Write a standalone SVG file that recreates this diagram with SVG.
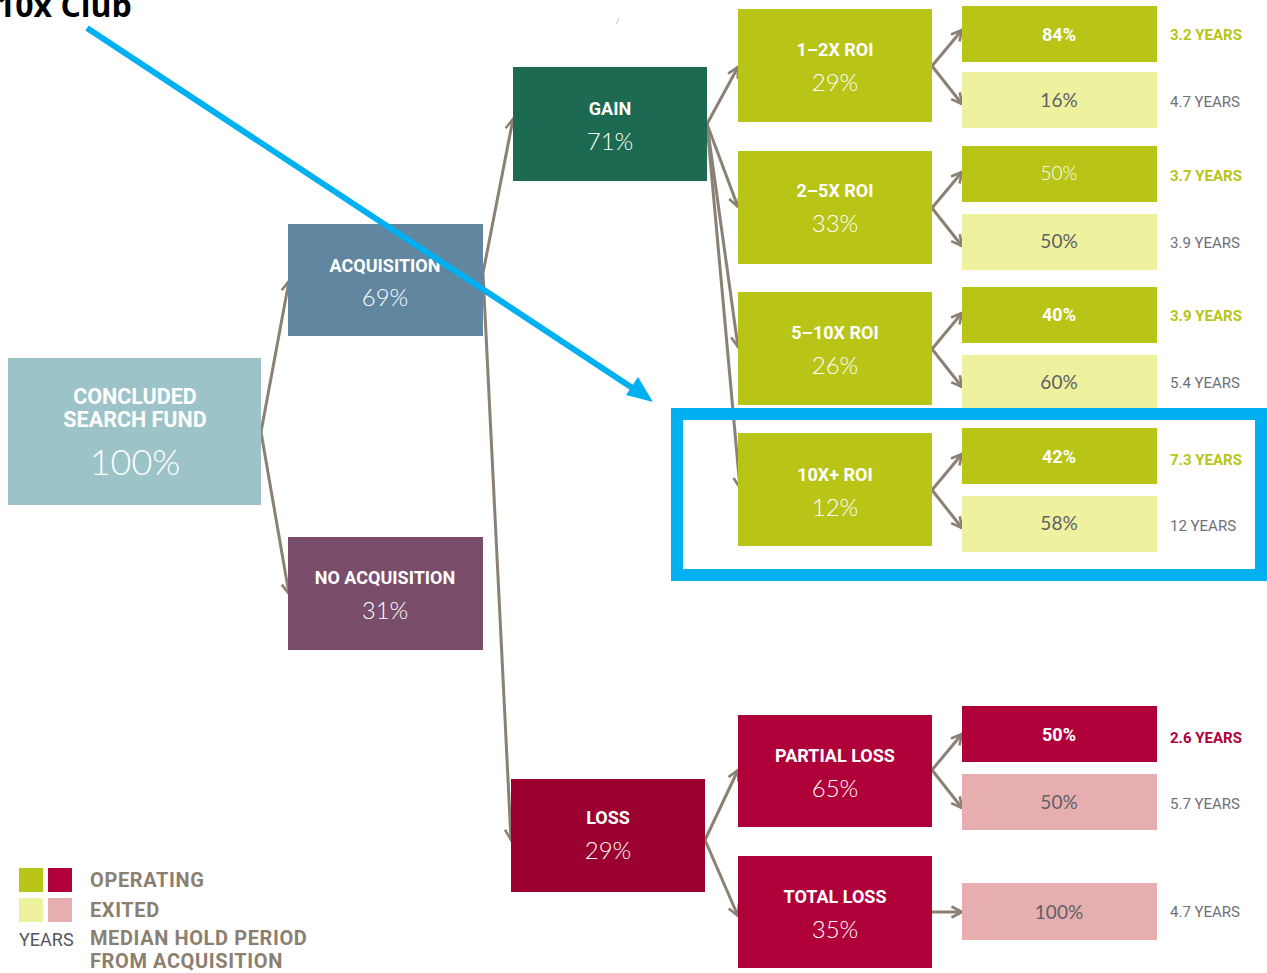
<svg xmlns="http://www.w3.org/2000/svg" width="1267" height="973" viewBox="0 0 1267 973">
<defs>
<marker id="ah" viewBox="0 0 14 14" refX="12.5" refY="7" markerWidth="14" markerHeight="14" markerUnits="userSpaceOnUse" orient="auto">
<path d="M2,1.5 L12.5,7 L2,12.5" fill="none" stroke="#8A8174" stroke-width="2.6" stroke-linejoin="miter"/>
</marker>
<style>
.lbl{font-family:Roboto,"Liberation Sans",sans-serif;font-weight:700;fill:#fff;text-anchor:middle}
.pct{font-family:Lato,"Open Sans",sans-serif;font-weight:300;fill:#fff;text-anchor:middle}
.pctd{font-family:Lato,"Open Sans",sans-serif;font-weight:400;fill:#5F5F68;text-anchor:middle;font-size:19px}
.yr{font-family:Roboto,"Liberation Sans",sans-serif;font-size:15px;fill:#6F6F78}
.yrg{font-family:Roboto,"Liberation Sans",sans-serif;font-size:15px;font-weight:700;fill:#B8C416}
.yrr{font-family:Roboto,"Liberation Sans",sans-serif;font-size:15px;font-weight:700;fill:#B0003A}
.con{fill:none;stroke:#8A8174;stroke-width:3;marker-end:url(#ah)}
.leg{font-family:Roboto,"Liberation Sans",sans-serif;font-weight:700;font-size:20px;letter-spacing:0.6px;fill:#8B8070}
.og{fill:#B8C416}.ex{fill:#EEF19D}.or{fill:#B0003A}.er{fill:#E6AEAE}
</style>
</defs>
<rect width="1267" height="973" fill="#fff"/>
<text x="-3" y="17" font-family="'Open Sans',Carlito,sans-serif" font-weight="700" font-size="32" fill="#000">10x Club</text>
<line x1="616" y1="24" x2="619" y2="18" stroke="#ccc" stroke-width="1"/>

<g id="connectors">
<path class="con" d="M261,432 L289,281"/>
<path class="con" d="M261,432 L289,594"/>
<path class="con" d="M483,273 L513,119"/>
<path class="con" d="M483,273 L511,840"/>
<path class="con" d="M707,124 L738,67"/>
<path class="con" d="M707,124 L738,207"/>
<path class="con" d="M707,124 L738,347"/>
<path class="con" d="M707,124 L740,488"/>
<path class="con" d="M932,66 L962,30"/>
<path class="con" d="M932,66 L962,104"/>
<path class="con" d="M932,208 L962,172"/>
<path class="con" d="M932,208 L962,246"/>
<path class="con" d="M932,349 L962,313"/>
<path class="con" d="M932,349 L962,387"/>
<path class="con" d="M932,490 L962,454"/>
<path class="con" d="M932,490 L962,528"/>
<path class="con" d="M705,840 L738,770"/>
<path class="con" d="M705,840 L738,916"/>
<path class="con" d="M932,770 L962,734"/>
<path class="con" d="M932,770 L962,808"/>
<path class="con" d="M932,912 L962,912"/>
</g>

<g id="concluded">
<rect x="8" y="358" width="253" height="147" fill="#9CC3C7"/>
<text class="lbl" x="135" y="404" font-size="21.5">CONCLUDED</text>
<text class="lbl" x="135" y="427" font-size="21.5">SEARCH FUND</text>
<text class="pct" x="135" y="475" font-size="36">100%</text>
</g>
<g id="acquisition">
<rect x="288" y="224" width="195" height="112" fill="#6086A0"/>
<text class="lbl" x="385" y="272" font-size="18">ACQUISITION</text>
<text class="pct" x="385" y="306" font-size="24">69%</text>
</g>
<g id="noacq">
<rect x="288" y="537" width="195" height="113" fill="#7A4D6B"/>
<text class="lbl" x="385" y="584" font-size="18">NO ACQUISITION</text>
<text class="pct" x="385" y="619" font-size="24">31%</text>
</g>
<g id="gain">
<rect x="513" y="67" width="194" height="114" fill="#1C6A51"/>
<text class="lbl" x="610" y="115" font-size="18">GAIN</text>
<text class="pct" x="610" y="150" font-size="24">71%</text>
</g>
<g id="loss">
<rect x="511" y="779" width="194" height="113" fill="#9A0030"/>
<text class="lbl" x="608" y="824" font-size="18">LOSS</text>
<text class="pct" x="608" y="859" font-size="24">29%</text>
</g>
<g id="roi12">
<rect x="738" y="9" width="194" height="113" class="og"/>
<text class="lbl" x="835" y="56" font-size="18">1–2X ROI</text>
<text class="pct" x="835" y="91" font-size="24">29%</text>
</g>
<g id="roi25">
<rect x="738" y="151" width="194" height="113" class="og"/>
<text class="lbl" x="835" y="197" font-size="18">2–5X ROI</text>
<text class="pct" x="835" y="232" font-size="24">33%</text>
</g>
<g id="roi510">
<rect x="738" y="292" width="194" height="113" class="og"/>
<text class="lbl" x="835" y="339" font-size="18">5–10X ROI</text>
<text class="pct" x="835" y="374" font-size="24">26%</text>
</g>
<g id="roi10">
<rect x="738" y="433" width="194" height="113" class="og"/>
<text class="lbl" x="835" y="481" font-size="18">10X+ ROI</text>
<text class="pct" x="835" y="516" font-size="24">12%</text>
</g>
<g id="partial">
<rect x="738" y="715" width="194" height="112" class="or"/>
<text class="lbl" x="835" y="762" font-size="18">PARTIAL LOSS</text>
<text class="pct" x="835" y="797" font-size="24">65%</text>
</g>
<g id="total">
<rect x="738" y="856" width="194" height="112" class="or"/>
<text class="lbl" x="835" y="903" font-size="18">TOTAL LOSS</text>
<text class="pct" x="835" y="938" font-size="24">35%</text>
</g>

<g id="r1a"><rect x="962" y="6" width="195" height="56" class="og"/><text class="lbl" x="1059" y="41" font-size="18">84%</text><text class="yrg" x="1170" y="40">3.2 YEARS</text></g>
<g id="r1b"><rect x="962" y="72" width="195" height="56" class="ex"/><text class="pctd" x="1059" y="107">16%</text><text class="yr" x="1170" y="107">4.7 YEARS</text></g>
<g id="r2a"><rect x="962" y="146" width="195" height="56" class="og"/><text class="pct" x="1059" y="180" font-size="19">50%</text><text class="yrg" x="1170" y="181">3.7 YEARS</text></g>
<g id="r2b"><rect x="962" y="214" width="195" height="56" class="ex"/><text class="pctd" x="1059" y="248">50%</text><text class="yr" x="1170" y="248">3.9 YEARS</text></g>
<g id="r3a"><rect x="962" y="287" width="195" height="56" class="og"/><text class="lbl" x="1059" y="321" font-size="18">40%</text><text class="yrg" x="1170" y="321">3.9 YEARS</text></g>
<g id="r3b"><rect x="962" y="355" width="195" height="55" class="ex"/><text class="pctd" x="1059" y="389">60%</text><text class="yr" x="1170" y="388">5.4 YEARS</text></g>
<g id="r4a"><rect x="962" y="428" width="195" height="56" class="og"/><text class="lbl" x="1059" y="463" font-size="18">42%</text><text class="yrg" x="1170" y="465">7.3 YEARS</text></g>
<g id="r4b"><rect x="962" y="496" width="195" height="56" class="ex"/><text class="pctd" x="1059" y="530">58%</text><text class="yr" x="1170" y="531">12 YEARS</text></g>
<g id="r5a"><rect x="962" y="706" width="195" height="56" class="or"/><text class="lbl" x="1059" y="741" font-size="18">50%</text><text class="yrr" x="1170" y="743">2.6 YEARS</text></g>
<g id="r5b"><rect x="962" y="774" width="195" height="56" class="er"/><text class="pctd" x="1059" y="809">50%</text><text class="yr" x="1170" y="809">5.7 YEARS</text></g>
<g id="r6"><rect x="962" y="883" width="195" height="57" class="er"/><text class="pctd" x="1059" y="919">100%</text><text class="yr" x="1170" y="917">4.7 YEARS</text></g>

<g id="legend">
<rect x="19" y="868" width="24" height="24" class="og"/>
<rect x="48" y="868" width="24" height="24" class="or"/>
<rect x="19" y="898" width="24" height="24" class="ex"/>
<rect x="48" y="898" width="24" height="24" class="er"/>
<text x="19" y="946" font-family="Roboto,'Liberation Sans',sans-serif" font-size="18" fill="#55555F">YEARS</text>
<text class="leg" x="90" y="887">OPERATING</text>
<text class="leg" x="90" y="917">EXITED</text>
<text class="leg" x="90" y="945">MEDIAN HOLD PERIOD</text>
<text class="leg" x="90" y="968">FROM ACQUISITION</text>
</g>

<g id="highlight">
<rect x="677" y="414" width="584" height="161" fill="none" stroke="#00B0F0" stroke-width="12"/>
<line x1="87" y1="28" x2="640" y2="393" stroke="#00B0F0" stroke-width="6"/>
<path d="M653,402 L626,395 L638,377 z" fill="#00B0F0"/>
</g>
</svg>
